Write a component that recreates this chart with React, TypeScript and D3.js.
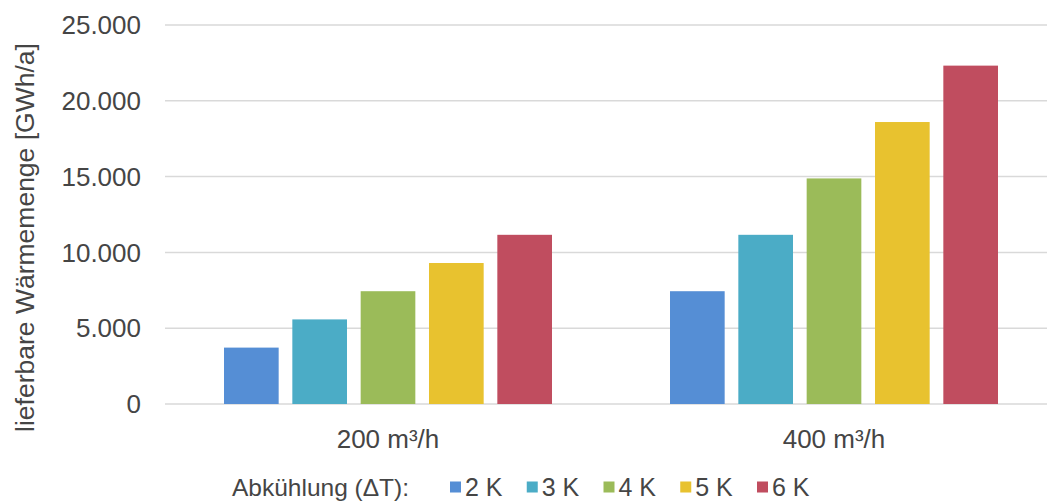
import React from "react";
import * as d3 from "d3";

const categories = ["200 m³/h", "400 m³/h"];
const seriesNames = ["2 K", "3 K", "4 K", "5 K", "6 K"];
const seriesColors = ["#558ED5", "#4BACC6", "#9BBB59", "#E8C22F", "#C04D5F"];
const values200 = [3720, 5580, 7440, 9300, 11160];
const values400 = [7440, 11160, 14880, 18600, 22320];
const yTicks = [0, 5000, 10000, 15000, 20000, 25000];
const yTickLabels = ["0", "5.000", "10.000", "15.000", "20.000", "25.000"];
const legendTitle = "Abkühlung (ΔT):";
const yTitle = "lieferbare Wärmemenge [GWh/a]";

const W = 1047;
const H = 502;
const FONT = "'Liberation Sans', Arial, sans-serif";
const TEXT = "#454545";

export default function App() {
  const x0 = d3.scaleBand<string>().domain(categories).range([165, 1057]).paddingInner(0).paddingOuter(0);
  const y = d3.scaleLinear().domain([0, 25000]).range([404, 25]);
  const groupW = 328;
  const x1 = d3
    .scaleBand<string>()
    .domain(seriesNames)
    .range([0, groupW])
    .paddingInner(0.2)
    .paddingOuter(0);
  const data = [values200, values400];

  return (
    <svg width={W} height={H} style={{ position: "absolute", left: 0, top: 0, background: "#fff" }}>
      <rect x={0} y={0} width={W} height={H} fill="#fff" />
      {yTicks.map((t, i) => (
        <g key={t}>
          <line x1={165} x2={W} y1={y(t)} y2={y(t)} stroke="#d9d9d9" strokeWidth={1.5} />
          <text x={141} y={y(t)} dy="0.35em" textAnchor="end" fontFamily={FONT} fontSize={26} fill={TEXT}>
            {yTickLabels[i]}
          </text>
        </g>
      ))}
      {categories.map((c, ci) => {
        const gx = (x0(c) as number) + (x0.bandwidth() - groupW) / 2;
        return (
          <g key={c}>
            {seriesNames.map((s, si) => (
              <rect
                key={s}
                x={gx + (x1(s) as number)}
                y={y(data[ci][si])}
                width={x1.bandwidth()}
                height={y(0) - y(data[ci][si])}
                fill={seriesColors[si]}
              />
            ))}
            <text
              x={(x0(c) as number) + x0.bandwidth() / 2}
              y={438.5}
              dy="0.35em"
              textAnchor="middle"
              fontFamily={FONT}
              fontSize={26}
              fill={TEXT}
            >
              {c}
            </text>
          </g>
        );
      })}
      <text
        transform={`translate(25,237.5) rotate(-90)`}
        textAnchor="middle"
        dy="0.35em"
        fontFamily={FONT}
        fontSize={26.5}
        fill={TEXT}
      >
        {yTitle}
      </text>
      <text x={232} y={487} dy="0.35em" fontFamily={FONT} fontSize={24.5} fill={TEXT}>
        {legendTitle}
      </text>
      {seriesNames.map((s, i) => (
        <g key={s} transform={`translate(${450 + i * 76.75},487)`}>
          <rect x={0} y={-5.5} width={11} height={11} fill={seriesColors[i]} />
          <text x={15} y={0} dy="0.35em" fontFamily={FONT} fontSize={25} fill={TEXT}>
            {s}
          </text>
        </g>
      ))}
    </svg>
  );
}
